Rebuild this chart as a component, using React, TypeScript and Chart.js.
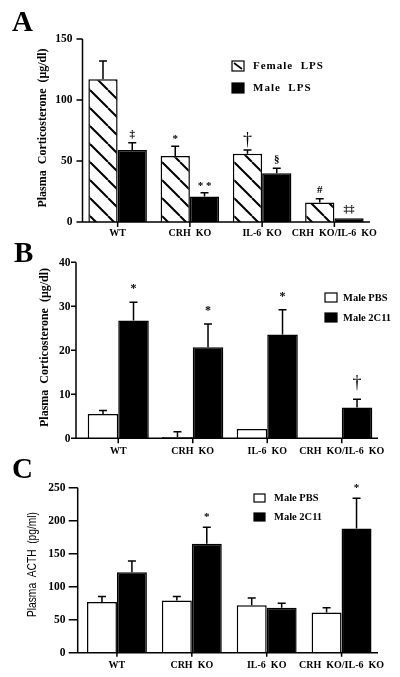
import React, { useEffect, useRef } from "react";
import { Chart, registerables } from "chart.js";
Chart.register(...registerables);

// ---------- data ----------
const groups = ["WT", "CRH  KO", "IL-6  KO", "CRH  KO/IL-6  KO"];

// Panel A: Plasma corticosterone (µg/dl), LPS
const aYTicks = [0, 50, 100, 150];
const aFemaleLPS = [117, 54, 56, 16];
const aFemaleLPSErr = [15, 8, 3, 3];
const aFemaleMarks = ["", "*", "†", "#"];
const aMaleLPS = [59, 21, 40, 3];
const aMaleLPSErr = [6, 3, 4, 0];
const aMaleMarks = ["‡", "* *", "§", "‡‡"];

// Panel B: Plasma corticosterone (µg/dl), 2C11
const bYTicks = [0, 10, 20, 30, 40];
const bMalePBS = [5.5, 0.3, 2.1, 0];
const bMalePBSErr = [0.8, 1.2, 0, 0];
const bPBSMarks = ["", "", "", ""];
const bMale2C11 = [26.8, 20.7, 23.6, 7.0];
const bMale2C11Err = [4.1, 5.3, 5.6, 1.9];
const b2C11Marks = ["*", "*", "*", "†"];

// Panel C: Plasma ACTH (pg/ml)
const cYTicks = [0, 50, 100, 150, 200, 250];
const cMalePBS = [77, 79, 72, 61];
const cMalePBSErr = [8, 6, 11, 7];
const cPBSMarks = ["", "", "", ""];
const cMale2C11 = [122, 165, 68, 188];
const cMale2C11Err = [17, 25, 7, 46];
const c2C11Marks = ["", "*", "", "*"];

// ---------- styling / layout ----------
const SERIF = '"Liberation Serif", "Times New Roman", serif';
const SANS = '"Liberation Sans", Arial, sans-serif';

type Kind = "hatch" | "black" | "white";
type Series = { label: string; values: number[]; errs: number[]; marks: string[]; kind: Kind };
type PanelCfg = {
  top: number;
  height: number;
  letter: string;
  letterX: number;
  letterBase: number;
  area: { left: number; right: number; top: number; bottom: number };
  axisX: number;
  axisRight: number;
  yTicks: number[];
  yTickLen: number;
  yLabelRight: number;
  tickFont: string;
  xTickLen: number;
  xLabelOffset: number;
  xLabelFont: string;
  catPct: number;
  title: string;
  titleFont: string;
  titleX: number;
  titleY: number;
  titleLen: number;
  legendBoxX: number;
  legendBoxW: number;
  legendBoxH: number;
  legendTextX: number;
  legendRows: number[];
  legendFont: string;
  legendSpacing: string;
  markGap: number;
  markSize: number;
  series: Series[];
};

const panels: PanelCfg[] = [
  {
    top: 0,
    height: 240,
    letter: "A",
    letterX: 12,
    letterBase: 31,
    area: { left: 81.5, right: 370.5, top: 39, bottom: 222 },
    axisX: 82.5,
    axisRight: 370,
    yTicks: aYTicks,
    yTickLen: 6,
    yLabelRight: 72.5,
    tickFont: `bold 11.5px ${SERIF}`,
    xTickLen: 5,
    xLabelOffset: 11.5,
    xLabelFont: `bold 10px ${SERIF}`,
    catPct: 0.81,
    title: "Plasma  Corticosterone  (μg/dl)",
    titleFont: `bold 12px ${SERIF}`,
    titleX: 43,
    titleY: 128,
    titleLen: 160,
    legendBoxX: 232,
    legendBoxW: 12,
    legendBoxH: 10,
    legendTextX: 253,
    legendRows: [66, 88],
    legendFont: `bold 11px ${SERIF}`,
    legendSpacing: "1px",
    markGap: 9,
    markSize: 11,
    series: [
      { label: "Female  LPS", values: aFemaleLPS, errs: aFemaleLPSErr, marks: aFemaleMarks, kind: "hatch" },
      { label: "Male  LPS", values: aMaleLPS, errs: aMaleLPSErr, marks: aMaleMarks, kind: "black" },
    ],
  },
  {
    top: 240,
    height: 220,
    letter: "B",
    letterX: 14,
    letterBase: 22,
    area: { left: 81, right: 379, top: 22.3, bottom: 198.3 },
    axisX: 76,
    axisRight: 378,
    yTicks: bYTicks,
    yTickLen: 5,
    yLabelRight: 70.5,
    tickFont: `bold 11.5px ${SERIF}`,
    xTickLen: 5,
    xLabelOffset: 12.7,
    xLabelFont: `bold 10px ${SERIF}`,
    catPct: 0.82,
    title: "Plasma  Corticosterone  (μg/dl)",
    titleFont: `bold 12px ${SERIF}`,
    titleX: 45,
    titleY: 107.5,
    titleLen: 159,
    legendBoxX: 325,
    legendBoxW: 12,
    legendBoxH: 9,
    legendTextX: 343,
    legendRows: [57.5, 77.5],
    legendFont: `bold 10.5px ${SERIF}`,
    legendSpacing: "0px",
    markGap: 15,
    markSize: 12,
    series: [
      { label: "Male PBS", values: bMalePBS, errs: bMalePBSErr, marks: bPBSMarks, kind: "white" },
      { label: "Male 2C11", values: bMale2C11, errs: bMale2C11Err, marks: b2C11Marks, kind: "black" },
    ],
  },
  {
    top: 450,
    height: 227,
    letter: "C",
    letterX: 12,
    letterBase: 28,
    area: { left: 79.5, right: 379, top: 37.7, bottom: 202.7 },
    axisX: 77.7,
    axisRight: 378,
    yTicks: cYTicks,
    yTickLen: 9,
    yLabelRight: 65.5,
    tickFont: `bold 11.5px ${SERIF}`,
    xTickLen: 4,
    xLabelOffset: 12.3,
    xLabelFont: `bold 10px ${SERIF}`,
    catPct: 0.8,
    title: "Plasma  ACTH  (pg/ml)",
    titleFont: `13.5px ${SANS}`,
    titleX: 32,
    titleY: 114.5,
    titleLen: 105,
    legendBoxX: 254,
    legendBoxW: 11,
    legendBoxH: 8,
    legendTextX: 274,
    legendRows: [48, 67],
    legendFont: `bold 10.5px ${SERIF}`,
    legendSpacing: "0px",
    markGap: 12.5,
    markSize: 11,
    series: [
      { label: "Male PBS", values: cMalePBS, errs: cMalePBSErr, marks: cPBSMarks, kind: "white" },
      { label: "Male 2C11", values: cMale2C11, errs: cMale2C11Err, marks: c2C11Marks, kind: "black" },
    ],
  },
];

function makeHatch(ctx: CanvasRenderingContext2D): CanvasPattern {
  const s = 18;
  const tile = document.createElement("canvas");
  tile.width = s;
  tile.height = s;
  const t = tile.getContext("2d")!;
  t.fillStyle = "#fff";
  t.fillRect(0, 0, s, s);
  t.strokeStyle = "#000";
  t.lineWidth = 2;
  t.beginPath();
  for (const k of [-s, 0, s]) {
    t.moveTo(k, 0);
    t.lineTo(k + s, s);
  }
  t.stroke();
  return ctx.createPattern(tile, "repeat")!;
}

function Panel({ cfg }: { cfg: PanelCfg }) {
  const ref = useRef<HTMLCanvasElement>(null);
  useEffect(() => {
    const canvas = ref.current!;
    const ctx0 = canvas.getContext("2d")!;
    const hatch = makeHatch(ctx0);
    const fillFor = (k: Kind) => (k === "hatch" ? hatch : k === "black" ? "#000" : "#fff");
    const W = 400;
    const yMax = cfg.yTicks[cfg.yTicks.length - 1];

    const overlay = {
      id: "overlay",
      afterDraw(chart: any) {
        const ctx: CanvasRenderingContext2D = chart.ctx;
        const xs = chart.scales.x;
        const ys = chart.scales.y;
        const y0 = ys.getPixelForValue(0);
        ctx.save();
        ctx.strokeStyle = "#000";
        ctx.fillStyle = "#000";

        // error bars
        ctx.lineWidth = 1.5;
        cfg.series.forEach((s, i) => {
          const meta = chart.getDatasetMeta(i);
          s.values.forEach((v, j) => {
            const e = s.errs[j];
            if (!e) return;
            const bx = meta.data[j].x;
            const yt = ys.getPixelForValue(v);
            const ye = ys.getPixelForValue(v + e);
            ctx.beginPath();
            ctx.moveTo(bx, yt);
            ctx.lineTo(bx, ye);
            ctx.moveTo(bx - 4, ye);
            ctx.lineTo(bx + 4, ye);
            ctx.stroke();
          });
        });

        // significance marks
        ctx.textAlign = "center";
        ctx.textBaseline = "middle";
        cfg.series.forEach((s, i) => {
          const meta = chart.getDatasetMeta(i);
          s.marks.forEach((m, j) => {
            if (!m) return;
            const bx = meta.data[j].x;
            const ye = ys.getPixelForValue(s.values[j] + s.errs[j]);
            if (m === "†") {
              ctx.font = `18px ${SERIF}`;
              ctx.fillText(m, bx, ye - cfg.markGap - 1);
            } else {
              ctx.font = `bold ${cfg.markSize}px ${SERIF}`;
              ctx.fillText(m, bx, ye - cfg.markGap + (m.includes("*") ? 2 : 0));
            }
          });
        });

        // axes
        ctx.lineWidth = 1.5;
        ctx.beginPath();
        ctx.moveTo(cfg.axisX, ys.getPixelForValue(yMax));
        ctx.lineTo(cfg.axisX, y0);
        ctx.moveTo(cfg.axisX - 0.75, y0);
        ctx.lineTo(cfg.axisRight, y0);
        cfg.yTicks.forEach((v) => {
          const py = ys.getPixelForValue(v);
          ctx.moveTo(cfg.axisX - cfg.yTickLen, py);
          ctx.lineTo(cfg.axisX, py);
        });
        groups.forEach((_, i) => {
          const px = xs.getPixelForValue(i);
          ctx.moveTo(px, y0);
          ctx.lineTo(px, y0 + cfg.xTickLen);
        });
        ctx.stroke();

        // tick labels
        ctx.fillStyle = "#000";
        ctx.font = cfg.tickFont;
        ctx.textAlign = "right";
        ctx.textBaseline = "middle";
        cfg.yTicks.forEach((v) => {
          ctx.fillText(String(v), cfg.yLabelRight, ys.getPixelForValue(v) + 0.5);
        });
        ctx.font = cfg.xLabelFont;
        ctx.textAlign = "center";
        groups.forEach((g, i) => {
          ctx.fillText(g, xs.getPixelForValue(i), y0 + cfg.xLabelOffset);
        });

        // legend
        ctx.lineWidth = 1.2;
        cfg.series.forEach((s, i) => {
          const cy = cfg.legendRows[i];
          const bx = cfg.legendBoxX;
          const by = cy - cfg.legendBoxH / 2;
          ctx.fillStyle = s.kind === "black" ? "#000" : "#fff";
          ctx.fillRect(bx, by, cfg.legendBoxW, cfg.legendBoxH);
          ctx.strokeRect(bx, by, cfg.legendBoxW, cfg.legendBoxH);
          if (s.kind === "hatch") {
            ctx.beginPath();
            ctx.moveTo(bx + 2, by + 2);
            ctx.lineTo(bx + cfg.legendBoxW - 2, by + cfg.legendBoxH - 2);
            ctx.lineWidth = 1.6;
            ctx.stroke();
            ctx.lineWidth = 1.2;
          }
          ctx.fillStyle = "#000";
          ctx.font = cfg.legendFont;
          (ctx as any).letterSpacing = cfg.legendSpacing;
          ctx.textAlign = "left";
          ctx.textBaseline = "middle";
          ctx.fillText(s.label, cfg.legendTextX, cy + 0.5);
          (ctx as any).letterSpacing = "0px";
        });

        // y axis title
        ctx.save();
        ctx.translate(cfg.titleX, cfg.titleY);
        ctx.rotate(-Math.PI / 2);
        ctx.font = cfg.titleFont;
        ctx.textAlign = "center";
        ctx.textBaseline = "middle";
        ctx.fillText(cfg.title, 0, 0, cfg.titleLen);
        ctx.restore();

        // panel letter
        ctx.font = `bold 29px ${SERIF}`;
        ctx.textAlign = "left";
        ctx.textBaseline = "alphabetic";
        ctx.fillText(cfg.letter, cfg.letterX, cfg.letterBase);
        ctx.restore();
      },
    };

    const chart = new Chart(canvas, {
      type: "bar",
      data: {
        labels: groups,
        datasets: cfg.series.map((s) => ({
          label: s.label,
          data: s.values,
          backgroundColor: fillFor(s.kind) as any,
          borderColor: "#000",
          borderWidth: 1.5,
          borderSkipped: "start",
          categoryPercentage: cfg.catPct,
          barPercentage: 1,
        })),
      },
      options: {
        animation: false,
        responsive: false,
        devicePixelRatio: 1,
        events: [],
        layout: {
          padding: {
            left: cfg.area.left,
            right: W - cfg.area.right,
            top: cfg.area.top,
            bottom: cfg.height - cfg.area.bottom,
          },
        },
        plugins: { legend: { display: false }, tooltip: { enabled: false } },
        scales: {
          x: {
            type: "category",
            offset: true,
            grid: { display: false, drawTicks: false },
            border: { display: false },
            ticks: { display: false },
            afterFit: (s: any) => {
              s.height = 0;
            },
          },
          y: {
            min: 0,
            max: yMax,
            grid: { display: false, drawTicks: false },
            border: { display: false },
            ticks: { display: false, stepSize: cfg.yTicks[1] - cfg.yTicks[0] },
            afterFit: (s: any) => {
              s.width = 0;
            },
          },
        },
      } as any,
      plugins: [overlay],
    });
    return () => chart.destroy();
  }, [cfg]);
  return (
    <canvas
      ref={ref}
      width={400}
      height={cfg.height}
      style={{ position: "absolute", left: 0, top: cfg.top, width: 400, height: cfg.height }}
    />
  );
}

export default function App() {
  return (
    <div style={{ position: "absolute", left: 0, top: 0, width: 400, height: 677, background: "#fff" }}>
      {panels.map((p) => (
        <Panel key={p.letter} cfg={p} />
      ))}
    </div>
  );
}
